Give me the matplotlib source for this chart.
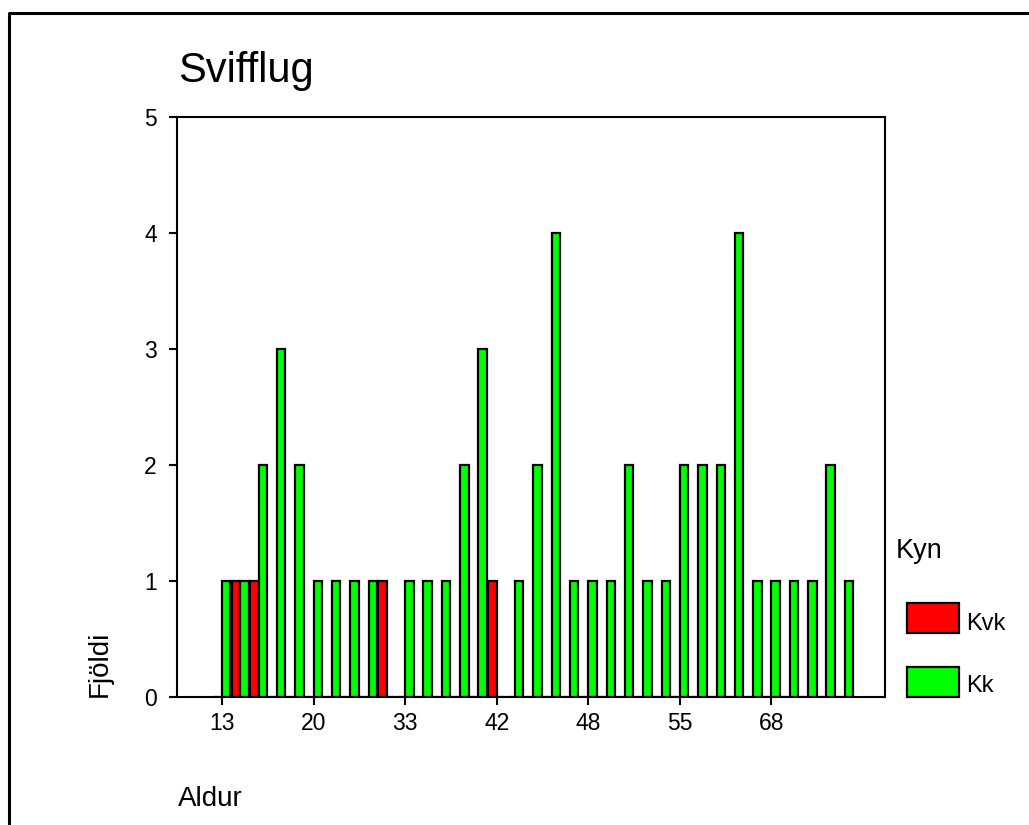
import matplotlib
matplotlib.use("Agg")
import matplotlib.pyplot as plt
from matplotlib.patches import Rectangle
from matplotlib.lines import Line2D
import numpy as np

plt.rcParams["font.family"] = ["Liberation Sans", "DejaVu Sans"]

# Aldur categories (only every 5th is labelled on the axis)
AGES = [13, 14, 15, 16, 17,
        20, 22, 24, 27, 30,
        33, 35, 37, 39, 40,
        42, 43, 44, 45, 46,
        48, 50, 51, 52, 53,
        55, 57, 59, 61, 64,
        68, 70, 72, 74, 76]
KVK = [0, 1, 1, 0, 0,
       0, 0, 0, 0, 1,
       0, 0, 0, 0, 0,
       1, 0, 0, 0, 0,
       0, 0, 0, 0, 0,
       0, 0, 0, 0, 0,
       0, 0, 0, 0, 0]
KK = [1, 1, 2, 3, 2,
      1, 1, 1, 1, 0,
      1, 1, 1, 2, 3,
      0, 1, 2, 4, 1,
      1, 1, 2, 1, 1,
      2, 2, 2, 4, 1,
      1, 1, 1, 2, 1]
LABEL_EVERY = 5

W, H = 1029, 825
fig = plt.figure(figsize=(W / 100, H / 100), dpi=100)
fig.patch.set_facecolor("white")


def fx(px):
    return px / W


def fy(py):
    return 1 - py / H


ax = fig.add_axes([fx(177), fy(697), fx(885) - fx(177), fy(117) - fy(697)])

x = np.arange(len(AGES))
bw = 0.46
ax.bar(x - bw / 2, KVK, width=bw, color="#FF0000", edgecolor="black", linewidth=1.6, zorder=3)
ax.bar(x + bw / 2, KK, width=bw, color="#00FF00", edgecolor="black", linewidth=1.6, zorder=3)

ax.set_xlim(-2.46, 36.2)
ax.set_ylim(0, 5)
ax.set_yticks(range(0, 6))
ax.set_xticks(x[::LABEL_EVERY])
ax.set_xticklabels([str(a) for a in AGES[::LABEL_EVERY]])
ax.tick_params(axis="y", direction="out", length=5.5, width=1.5, pad=9, labelsize=16.5)
ax.tick_params(axis="x", direction="out", length=5.5, width=1.5, pad=5, labelsize=16.5)
for s in ax.spines.values():
    s.set_linewidth(1.5)

# texts
fig.text(fx(178), fy(82), "Svifflug", fontsize=30, ha="left", va="baseline")
fig.text(fx(100), fy(697), "Fjöldi", fontsize=20, rotation=90, ha="center", va="bottom")
fig.text(fx(178), fy(806), "Aldur", fontsize=20, ha="left", va="baseline")

# legend
fig.text(fx(896), fy(558), "Kyn", fontsize=19.5, ha="left", va="baseline")
fig.add_artist(Rectangle((fx(907), fy(633)), fx(959) - fx(907), fy(603) - fy(633),
                         transform=fig.transFigure, facecolor="#FF0000",
                         edgecolor="black", linewidth=1.6))
fig.add_artist(Rectangle((fx(907), fy(697)), fx(959) - fx(907), fy(667) - fy(697),
                         transform=fig.transFigure, facecolor="#00FF00",
                         edgecolor="black", linewidth=1.6))
fig.text(fx(966), fy(630), "Kvk", fontsize=17, ha="left", va="baseline")
fig.text(fx(966), fy(692), "Kk", fontsize=17, ha="left", va="baseline")

# outer frame (left and top)
fig.add_artist(Line2D([fx(9), fx(9), fx(W)], [fy(H), fy(13), fy(13)],
                      transform=fig.transFigure, color="black", linewidth=2.2))

fig.savefig("out.png", dpi=100)
